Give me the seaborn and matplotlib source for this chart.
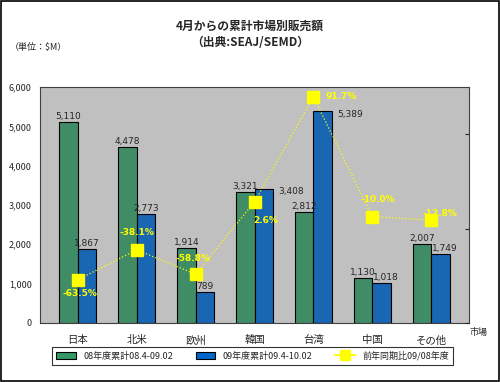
import pandas as pd
import numpy as np
import matplotlib.pyplot as plt
import seaborn as sns
from matplotlib.patches import Patch
from matplotlib.lines import Line2D
from matplotlib.ticker import FuncFormatter

markets = ["日本", "北米", "欧州", "韓国", "台湾", "中国", "その他"]
sales_08 = [5110, 4478, 1914, 3321, 2812, 1130, 2007]
sales_09 = [1867, 2773, 789, 3408, 5389, 1018, 1749]
yoy_pct = [-63.5, -38.1, -58.8, 2.6, 91.7, -10.0, -12.8]
series_names = ["08年度累計08.4-09.02", "09年度累計09.4-10.02"]
line_name = "前年同期比09/08年度"

green = "#339966"
blue = "#0066CC"
yellow = "#FFFF00"

sns.set_style("white")
plt.rcParams["font.family"] = ["Noto Sans CJK JP", "DejaVu Sans"]

df = pd.DataFrame({
    "market": markets * 2,
    "sales": sales_08 + sales_09,
    "series": [series_names[0]] * 7 + [series_names[1]] * 7,
})

fig = plt.figure(figsize=(5, 3.82), dpi=100)
ax = fig.add_axes([0.08, 0.155, 0.858, 0.617])
ax.set_facecolor("#C0C0C0")

sns.barplot(data=df, x="market", y="sales", hue="series", order=markets,
            palette=[green, blue], width=0.62, edgecolor="black", linewidth=0.8,
            legend=False, ax=ax)

ax.set_ylim(0, 6000)
ax.set_yticks(range(0, 6001, 1000))
ax.yaxis.set_major_formatter(FuncFormatter(lambda v, p: f"{int(v):,}"))
ax.tick_params(axis="y", labelsize=6.5, length=0, pad=6)
ax.tick_params(axis="x", labelsize=7.5, length=3, pad=6)
ax.set_xlabel("")
ax.set_ylabel("")
for s in ax.spines.values():
    s.set_color("#404040")
    s.set_linewidth(0.8)

# bar value labels
for i, cont in enumerate(ax.containers):
    for j, bar in enumerate(cont):
        v = bar.get_height()
        x = bar.get_x() + bar.get_width() / 2
        if i == 1 and markets[j] in ("韓国", "台湾"):
            ax.annotate(f"{int(v):,}", (bar.get_x() + bar.get_width(), v),
                        xytext=(6, -3), textcoords="offset pixels",
                        ha="left", va="center", fontsize=6.5, family="DejaVu Sans")
        else:
            dx = 4 if (i == 1 and markets[j] in ("中国", "その他")) else 0
            ax.annotate(f"{int(v):,}", (x, v), xytext=(dx, 1),
                        textcoords="offset pixels", ha="center", va="bottom",
                        fontsize=6.5, family="DejaVu Sans")

# year-over-year line on hidden secondary axis
ax2 = ax.twinx()
ax2.plot(range(len(markets)), yoy_pct, color=yellow, linestyle=":", linewidth=0.9,
         marker="s", markersize=8, markeredgecolor=yellow)
ax2.set_ylim(-100, 100)
ax2.set_yticks([-100, -20, 60])
ax2.set_yticklabels([])
ax2.tick_params(axis="y", length=3, direction="in")
for s in ax2.spines.values():
    s.set_visible(False)

pct_offsets = [(2, -14), (0, 17), (-3, 16), (11, -19), (28, 0), (5, 17), (9, 7)]
for k, (p, off) in enumerate(zip(yoy_pct, pct_offsets)):
    ax2.annotate(f"{p:.1f}%", (k, p), xytext=off, textcoords="offset pixels",
                 ha="center", va="center", fontsize=6.5, fontweight="bold",
                 color=yellow, family="DejaVu Sans")

fig.text(0.5, 0.93, "4月からの累計市場別販売額", ha="center", va="center",
         fontsize=8.5, fontweight="bold")
fig.text(0.5, 0.89, "（出典:SEAJ/SEMD）", ha="center", va="center",
         fontsize=8.5, fontweight="bold")
fig.text(0.02, 0.877, "（単位：$M）", ha="left", va="center", fontsize=6.5)
fig.text(0.94, 0.131, "市場", ha="left", va="center", fontsize=6.5)

handles = [Patch(facecolor=green, edgecolor="black", linewidth=0.8),
           Patch(facecolor=blue, edgecolor="black", linewidth=0.8),
           Line2D([0], [0], color=yellow, marker="s", markersize=7, linewidth=1.5)]
leg = fig.legend(handles, series_names + [line_name], loc="center",
                 bbox_to_anchor=(0.505, 0.068), ncol=3, fontsize=6.5,
                 frameon=True, fancybox=False, edgecolor="black",
                 handlelength=2.2, handleheight=0.8, columnspacing=2.5,
                 borderpad=0.5)
leg.get_frame().set_linewidth(0.8)

fig.patches.append(plt.Rectangle((0.002, 0.002), 0.996, 0.996, transform=fig.transFigure,
                                 fill=False, edgecolor="black", linewidth=1.2))

fig.savefig("out.png", dpi=100)
